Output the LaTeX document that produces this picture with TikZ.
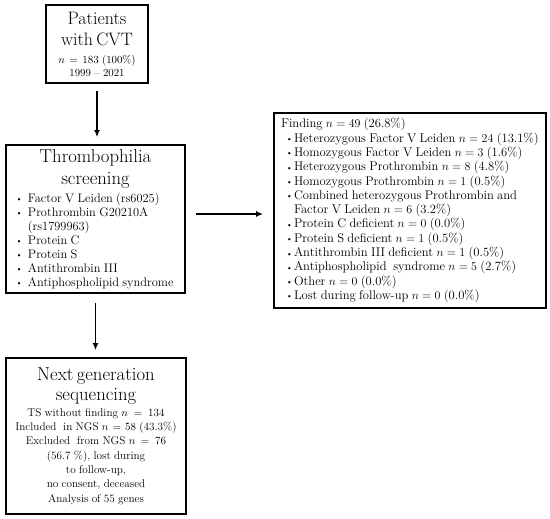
\documentclass[tikz,border=0pt]{standalone}
\usepackage{fontspec}
\usetikzlibrary{positioning, arrows.meta}

% bullet list inside the boxes
\newlength\bulskip
\newlength\txtskip
\newcommand{\bitem}{\par\hangindent=\txtskip\hangafter=1\noindent
  \hspace*{\bulskip}\hbox to \dimexpr\txtskip-\bulskip\relax{\raisebox{0.5pt}{\footnotesize\textbullet}\hss}}
\newcommand{\boxsmall}{\fontsize{11.2}{14.3}\selectfont}

\begin{document}
\begin{tikzpicture}[
  x=1pt, y=-1pt,
  >={Latex[length=7pt,width=6pt]},
  box/.style={draw, line width=1.8pt, inner sep=0pt},
  flow/.style={->, line width=1.4pt},
]
\useasboundingbox (0,0) rectangle (550,519);

% ---------------- boxes ----------------
\node[box, minimum width=102pt, minimum height=78pt, text width=96pt, align=center]
  (patients) at (97,44)
  {{\fontsize{18}{21}\selectfont Patients\\with CVT\par}
   \vspace{5pt}
   {\fontsize{10.8}{13}\selectfont $n=183$ (100\%)\\1999 -- 2021\par}};

\node[box, minimum width=179pt, minimum height=148pt, text width=173pt]
  (screening) at (95.5,219)
  {\setlength\bulskip{7pt}\setlength\txtskip{19pt}%
   {\centering\fontsize{18.7}{22}\selectfont Thrombophilia\\screening\par}
   \vspace{4pt}
   \fontsize{12.4}{14}\selectfont\raggedright\hyphenpenalty=10000
   \bitem Factor V Leiden (rs6025)
   \bitem Prothrombin G20210A\newline (rs1799963)
   \bitem Protein C
   \bitem Protein S
   \bitem Antithrombin III
   \bitem Antiphospholipid syndrome\par};

\node[box, minimum width=272pt, minimum height=195pt, text width=258pt]
  (finding) at (410,210.5)
  {\setlength\bulskip{5pt}\setlength\txtskip{13pt}%
   \fontsize{12.6}{14.3}\selectfont\raggedright
   \noindent Finding $n=49$ (26.8\%)
   \bitem Heterozygous Factor V Leiden $n=24$ (13.1\%)
   \bitem Homozygous Factor V Leiden $n=3$ (1.6\%)
   \bitem Heterozygous Prothrombin $n=8$ (4.8\%)
   \bitem Homozygous Prothrombin $n=1$ (0.5\%)
   \bitem Combined heterozygous Prothrombin and\newline Factor V Leiden $n=6$ (3.2\%)
   \bitem Protein C deficient $n=0$ (0.0\%)
   \bitem Protein S deficient $n=1$ (0.5\%)
   \bitem Antithrombin III deficient $n=1$ (0.5\%)
   \bitem Antiphospholipid~ syndrome $n=5$ (2.7\%)
   \bitem Other $n=0$ (0.0\%)
   \bitem Lost during follow-up $n=0$ (0.0\%)\par};

\node[box, minimum width=180pt, minimum height=156pt, text width=174pt, align=center]
  (ngs) at (96,436)
  {{\fontsize{18.7}{20}\selectfont Next generation\\sequencing\par}
   \vspace{1.7pt}
   {\boxsmall
   TS without finding $n=134$\\
   Included~ in NGS $n=58$ (43.3\%)\\
   Excluded~ from NGS $n=76$\\
   (56.7 \%), lost during\\
   to follow-up,\\
   no consent, deceased\\
   Analysis of 55 genes\par}};

% ---------------- arrows ----------------
\draw[flow, shorten <=7pt, shorten >=7pt] (patients.south) -- (patients.south |- screening.north);
\draw[flow, shorten <=9pt, shorten >=7pt] (screening.south) -- (screening.south |- ngs.north);
\coordinate (hz) at ([yshift=5pt]screening.east);
\draw[flow, shorten <=10pt, shorten >=10pt] (hz) -- (hz -| finding.west);
\end{tikzpicture}
\end{document}
